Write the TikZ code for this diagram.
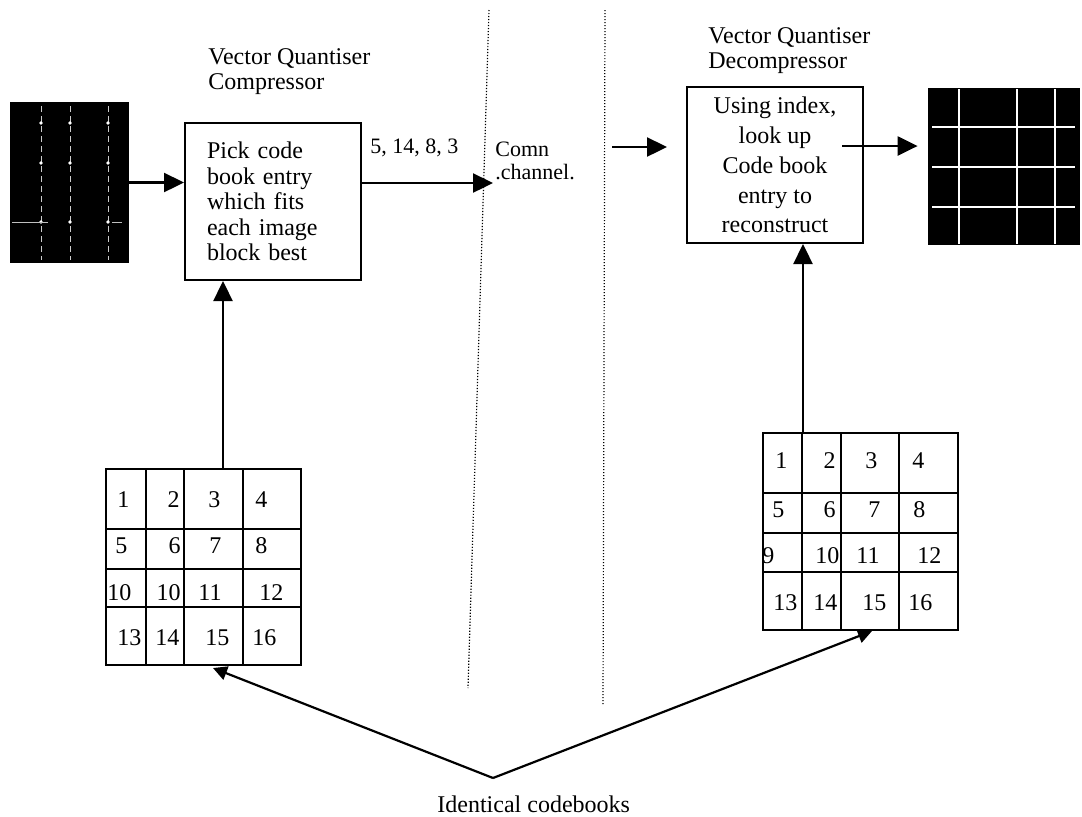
\documentclass[tikz,border=0pt]{standalone}
\usepackage{fontspec}
\setmainfont{Liberation Serif}
\usetikzlibrary{arrows.meta}
\begin{document}
\begin{tikzpicture}[x=0.5pt,y=-0.5pt,
	arr/.style={-{Triangle[length=10pt,width=9.5pt]},line width=1.2pt},
	arrs/.style={-{Triangle[length=7pt,width=7pt]},line width=1.1pt},
	box/.style={draw,line width=1pt,minimum width=88pt,inner sep=0pt},
	img/.style={fill=black,inner sep=0pt},
	cbook/.style={draw,line width=1pt,minimum width=97.5pt,inner sep=0pt},
	num/.style={inner sep=0pt,font=\fontsize{12}{14}\selectfont},
	chan/.style={line width=0.6pt,dash pattern=on 0.6pt off 0.9pt}]
	%\draw[gray!15] (0,0) grid[step=50] (1082,816); %helper grid
	\useasboundingbox (0,0) rectangle (1082,816);
	\node[anchor=north west,inner sep=0pt,align=left,font=\fontsize{12}{12.5}\selectfont] (ctit) at (208,48) {Vector Quantiser\\Compressor};
	\node[anchor=north west,inner sep=0pt,align=left,font=\fontsize{12}{12.5}\selectfont] (dtit) at (708,27) {Vector Quantiser\\Decompressor};
	
	\node[box,minimum height=78.5pt,text width=66pt,inner xsep=11pt,align=left,font=\fontsize{12}{12.75}\selectfont] (comp) at (273,201.5) {Pick code\\book entry\\which fits\\each image\\block best};
	\node[box,minimum height=78pt,align=center,font=\fontsize{12}{14.9}\selectfont] (decomp) at (775,165) {Using index,\\look up\\Code book\\entry to\\reconstruct};
	
	\node[img,minimum width=59.5pt,minimum height=80.5pt] (imgL) at (69.5,182.5) {};
	\foreach \gx in {41,70,108} \draw[gray!40,line width=0.5pt,dash pattern=on 3pt off 2pt] (\gx,106) -- (\gx,260);
	\foreach \gx in {41,70,108} \foreach \gy in {123,163,222} \fill[white] (\gx,\gy) circle (0.9pt);
	\draw[gray!50,line width=0.5pt] (12,222) -- (48,222) (112,222) -- (122,222);
	\node[img,minimum width=76pt,minimum height=78.5pt] (imgR) at (1004,166.5) {};
	\foreach \gx in {959,1017,1055} \draw[white,line width=1pt] (\gx,89) -- (\gx,244);
	\foreach \gy in {127,167,207} \draw[white,line width=1pt] (932,\gy) -- (1075,\gy);
	
	% code books
	\node[cbook,minimum height=98pt] (cbL) at (203.5,567) {};
	\foreach \cx in {146,184,243} \draw[line width=1pt] (\cx,469) -- (\cx,665);
	\foreach \cy in {529,569,607} \draw[line width=1pt] (106,\cy) -- (301,\cy);
	\foreach \nx/\ny/\na/\nt [count=\i] in {117/507/west/1,180/507/east/2,208/507/west/3,255/507/west/4,
		115/553/west/5,181/553/east/6,209/553/west/7,255/553/west/8,
		107/600/west/10,181/600/east/10,198/600/west/11,259/600/west/12,
		117/645/west/13,155/645/west/14,205/645/west/15,252/645/west/16}
		\node[num,anchor=base \na] (nL\i) at (\nx,\ny) {\nt};
	\node[cbook,minimum height=98.5pt] (cbR) at (860.5,531.5) {};
	\foreach \cx in {802,841,899} \draw[line width=1pt] (\cx,433) -- (\cx,630);
	\foreach \cy in {493,533,572} \draw[line width=1pt] (763,\cy) -- (958,\cy);
	\foreach \nx/\ny/\na/\nt [count=\i] in {775/468/west/1,836/468/east/2,865/468/west/3,912/468/west/4,
		772/517/west/5,836/517/east/6,868/517/west/7,913/517/west/8,
		762/563/west/9,815/563/west/10,856/563/west/11,917/563/west/12,
		773/610/west/13,813/610/west/14,862/610/west/15,908/610/west/16}
		\node[num,anchor=base \na] (nR\i) at (\nx,\ny) {\nt};
	
	% channel
	\coordinate (s1) at (489,10); \coordinate (e1) at (468,688); \draw[chan] (s1) -- (e1);
	\coordinate (s2) at (605,10); \coordinate (e2) at (603,705); \draw[chan] (s2) -- (e2);
	\node[anchor=base west,inner sep=0pt,font=\fontsize{11}{13}\selectfont] (idx) at (370,153) {5, 14, 8, 3};
	\node[anchor=north west,inner sep=0pt,align=left,font=\fontsize{11}{11.5}\selectfont] (comn) at (495,142) {Comn\\.channel.};
	
	\coordinate (chin) at (493,183); \coordinate (chout) at (612,147); \coordinate (dout) at (842,146);
	\draw[arr] (imgL.east) -- (imgL.east -| comp.west);
	\draw[arr] (comp.east |- chin) -- (chin);
	\draw[arr] (chout) -- ([xshift=-9.5pt]chout -| decomp.west);
	\draw[arr] (dout) -- ([xshift=-5pt]dout -| imgR.west);
	\draw[arr] ([xshift=9.75pt]cbL.north) coordinate (aL) -- (aL |- comp.south);
	\draw[arr] ([xshift=-28.75pt]cbR.north) coordinate (aR) -- (aR |- decomp.south);
	
	\coordinate (ic) at (493,778);
	\draw[arrs] (ic) -- ([xshift=4.75pt,yshift=-1pt]cbL.south);
	\draw[arrs] (ic) -- ([xshift=5.75pt]cbR.south);
	\node[anchor=base west,inner sep=0pt,font=\fontsize{12}{14}\selectfont] (ident) at (437,812) {Identical codebooks};
\end{tikzpicture}
\end{document}
